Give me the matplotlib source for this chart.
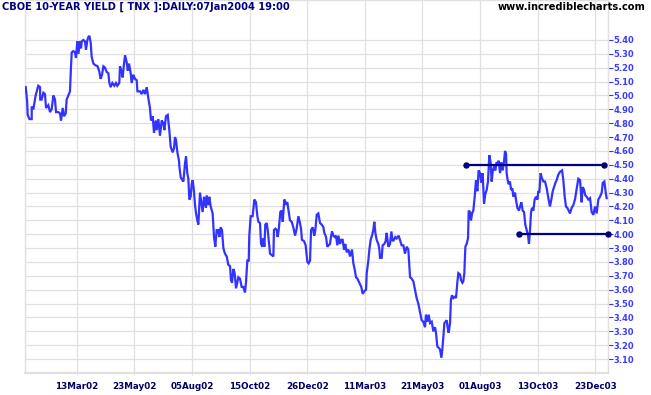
import matplotlib
matplotlib.use("Agg")
import matplotlib.pyplot as plt

# ---- data (trading-day index from 07Jan2002, yield %) ----
days = [0.8, 2, 2.5, 4, 6, 6, 7.4, 9.4, 11.7, 13.2, 13.4, 14.6, 16.1, 17.5, 18.4, 20.4,
        21.9, 23.3, 24.8, 26.2, 27.1, 29.1, 30.6, 31.4, 32.9, 34.0, 35.5, 36.3, 37.8, 39.2,
        40.1, 40.7, 42.1, 43.6, 44.4, 45.6, 46.5, 47.9, 48.8, 49.4, 50.8, 52.2, 53.1, 54.3,
        55.1, 56.0, 57.2, 58.0, 59.5, 60.9, 63.2, 64.7, 65.8, 67.0, 68.2, 69.6, 71.0, 72.5,
        73.4, 74.5, 76.0, 77.7, 79.1, 80.3, 82.0, 82.6, 84.1, 84.9, 86.1, 87.0, 88.4, 89.3,
        90.4, 91.9, 92.7, 94.2, 95.6, 97.1, 97.7, 100.0, 101.4, 102.9, 104.3, 105.8, 107.2,
        108.6, 109.5, 111.0, 112.1, 113.6, 114.4, 115.9, 117.3, 118.8, 120.2, 121.1, 122.5,
        124.0, 125.4, 126.6, 128.3, 129.5, 130.3, 131.2, 132.4, 133.8,
        134.1, 135.3, 136.7, 137.6, 139.0, 139.9, 141.0, 141.9, 142.8, 143.9, 144.8, 145.7,
        146.8, 147.7, 148.6, 149.7, 150.6, 152.0,
        154.3, 155.5, 157.2, 157.8, 159.3, 160.1, 161.3, 163.0, 164.2, 165.3, 166.5, 167.9,
        168.8, 170.0, 171.1, 172.3, 173.7, 175.2, 176.6, 178.1, 178.9, 179.8, 181.0, 182.1,
        183.3, 185.3, 186.7, 188.2, 189.6, 191.1, 192.0, 193.1, 194.3, 194.8, 196.0, 197.7,
        199.2, 200.6, 201.8, 202.7, 204.1, 205.0, 206.1, 207.0, 207.9, 208.7, 209.9, 210.8,
        211.6, 212.8, 214.2, 215.7, 216.2, 217.4, 218.6, 219.4, 220.3, 220.9, 221.7, 222.9,
        223.8, 225.2, 226.7, 227.8, 229.0, 230.1, 231.6, 233.0, 234.5, 235.9, 237.4, 238.8,
        239.7, 240.5, 242.3, 243.7, 245.2, 246.3, 247.5, 248.4, 249.8, 251.2, 252.1, 253.3,
        254.7, 256.2, 257.6, 259.1, 259.9, 261.4, 262.5, 263.7, 264.8, 265.7, 266.6, 267.7,
        268.9, 270.0, 271.2, 272.1, 273.5, 274.7, 275.8, 277.0, 278.1, 279.3, 280.8, 282.2,
        283.9, 285.1, 286.2, 287.4, 288.6, 290.3, 292.0, 293.2, 294.6, 296.1, 296.7, 298.1,
        299.0, 300.1, 301.3, 302.4, 303.3, 304.2, 305.3, 306.8, 307.7, 308.2, 309.7, 310.5,
        312.0, 313.1, 314.0, 315.5, 316.9, 318.1, 319.2, 320.4, 321.5, 322.7, 324.4,
        327.0, 328.5, 329.9, 331.4, 332.8, 334.3, 335.7, 337.2, 338.6, 340.0, 341.5, 342.9,
        344.4, 345.8, 347.3, 348.1, 349.3, 350.5, 351.6, 353.1, 354.5, 356.0, 356.8, 358.0,
        359.4, 360.3, 361.5, 362.3, 363.2, 364.1, 365.2, 366.1, 366.9, 367.8, 369.0, 369.8,
        370.7, 371.9, 373.3, 374.2, 375.3, 376.2, 377.7, 378.5, 379.7, 380.5, 381.4, 382.3,
        383.4, 384.6, 385.2, 386.3, 387.2, 388.1, 389.2, 390.4, 391.5, 392.7, 393.8, 395.0,
        396.2, 397.3, 398.5, 399.6, 400.8, 401.9, 403.1, 404.3, 405.1, 406.0, 407.2, 408.3,
        409.5, 410.3, 411.2, 412.4, 413.5, 414.7, 415.8, 416.7, 417.6, 418.1, 419.0, 419.9,
        421.0, 421.9, 423.1, 423.9, 425.4, 426.2, 427.4, 428.8, 429.7, 430.9, 432.0, 433.2,
        434.3, 435.5, 436.7, 437.5, 438.4, 439.3, 440.1, 441.3, 442.4, 443.6, 444.8, 445.6,
        446.5, 447.6, 448.5, 450.0, 451.4, 452.9, 454.3, 455.7, 456.9, 458.1, 459.2, 460.4,
        461.5, 463.0, 464.4, 466.2, 467.3, 468.5, 469.6, 470.8, 471.9, 473.1, 474.5, 476.0,
        477.4, 478.9, 480.3, 481.8, 483.2, 484.1, 485.3, 486.4, 487.6, 489.0, 490.5, 491.9,
        493.4, 494.8, 496.2, 497.7, 499.1, 500.6, 501.5, 502.9, 504.1, 504.9]

yields = [5.06, 4.96, 4.86, 4.83, 4.83, 4.92, 4.90, 5.00, 5.07, 5.06, 4.97, 4.97, 5.02, 5.01, 4.91, 4.93,
          4.88, 4.90, 5.00, 4.97, 4.88, 4.88, 4.87, 4.82, 4.91, 4.85, 4.87, 4.97, 5.00, 5.03,
          5.21, 5.31, 5.32, 5.31, 5.27, 5.39, 5.30, 5.39, 5.34, 5.39, 5.40, 5.39, 5.33, 5.40,
          5.42, 5.43, 5.38, 5.28, 5.23, 5.22, 5.21, 5.17, 5.12, 5.15, 5.21, 5.20, 5.17, 5.16,
          5.09, 5.06, 5.09, 5.07, 5.09, 5.07, 5.09, 5.21, 5.17, 5.13, 5.23, 5.29, 5.24, 5.18,
          5.23, 5.16, 5.09, 5.15, 5.12, 5.11, 5.03, 5.03, 5.01, 5.04, 5.01, 5.06, 4.98,
          4.91, 4.82, 4.85, 4.73, 4.82, 4.75, 4.83, 4.71, 4.82, 4.80, 4.75, 4.85,
          4.86, 4.75, 4.63, 4.59, 4.62, 4.70, 4.68, 4.59, 4.53,
          4.49, 4.41, 4.39, 4.38, 4.51, 4.56, 4.44, 4.40, 4.25, 4.27, 4.36, 4.39,
          4.31, 4.21, 4.15, 4.10, 4.07, 4.30,
          4.16, 4.27, 4.19, 4.28, 4.21, 4.27, 4.20, 4.15, 3.98, 3.91, 4.03, 4.03,
          3.98, 4.05, 4.03, 3.90, 3.86, 3.84, 3.78, 3.77, 3.67, 3.65, 3.75, 3.72,
          3.61, 3.69, 3.68, 3.62, 3.62, 3.58, 3.66, 3.81, 3.81, 3.99, 4.13, 4.13,
          4.25, 4.23, 4.13, 4.09, 4.08, 3.93, 3.91, 3.97, 3.91, 4.07, 4.08, 4.03,
          3.96, 3.86, 3.85, 3.84, 4.03, 4.04, 4.03, 3.98, 4.03, 4.08, 4.16, 4.17,
          4.09, 4.25, 4.22, 4.23, 4.16, 4.10, 4.09, 4.05, 3.99, 4.04, 4.13, 4.08,
          4.04, 3.96, 3.95, 3.92, 3.80, 3.79, 3.81, 4.03, 4.05, 3.99, 4.03, 4.14,
          4.15, 4.08, 4.07, 4.05, 4.01, 3.98, 3.91, 3.92, 3.93, 3.98, 4.02, 3.99,
          3.98, 3.99, 3.92, 3.99, 3.93, 3.96, 3.96, 3.89, 3.93, 3.87, 3.89, 3.84,
          3.89, 3.79, 3.75, 3.69, 3.68, 3.65, 3.62, 3.57, 3.59, 3.60, 3.72, 3.81,
          3.89, 3.96, 3.99, 4.03, 4.09, 4.01, 3.96, 3.93, 3.89, 3.83, 3.83, 3.92,
          3.93, 3.95, 4.01, 3.91, 3.93, 4.02, 3.95, 3.96, 3.98, 3.97, 3.99,
          3.92, 3.92, 3.86, 3.91, 3.89, 3.69, 3.68, 3.66, 3.60, 3.54, 3.50, 3.44,
          3.38, 3.37, 3.33, 3.42, 3.37, 3.42, 3.36, 3.37, 3.30, 3.33, 3.29, 3.19,
          3.18, 3.17, 3.11, 3.17, 3.26, 3.36, 3.37, 3.38, 3.33, 3.29, 3.36, 3.53,
          3.56, 3.54, 3.55, 3.54, 3.65, 3.72, 3.71, 3.67, 3.65, 3.66, 3.72, 3.91,
          3.93, 3.97, 4.17, 4.16, 4.10, 4.15, 4.17, 4.27, 4.39, 4.31, 4.46, 4.44,
          4.37, 4.44, 4.22, 4.29, 4.32, 4.38, 4.57, 4.51, 4.38, 4.45, 4.49, 4.46,
          4.52, 4.50, 4.53, 4.44, 4.52, 4.46, 4.52, 4.60, 4.58, 4.44, 4.39, 4.36,
          4.38, 4.32, 4.33, 4.27, 4.30, 4.25, 4.19, 4.17, 4.20, 4.23, 4.17, 4.16,
          4.07, 4.03, 3.99, 3.93, 4.03, 4.16, 4.19, 4.17, 4.25, 4.27, 4.25, 4.31,
          4.30, 4.44, 4.41, 4.38, 4.38, 4.33, 4.26, 4.20, 4.25, 4.31, 4.34, 4.37,
          4.39, 4.43, 4.45, 4.46, 4.39, 4.27, 4.20, 4.19, 4.17, 4.15, 4.19, 4.21,
          4.25, 4.33, 4.40, 4.39, 4.23, 4.34, 4.32, 4.28, 4.27, 4.25, 4.26, 4.16,
          4.14, 4.20, 4.15, 4.25, 4.27, 4.30, 4.37, 4.38, 4.30, 4.26]

# horizontal trend lines: (start day, end day, level)
resistance = (382.9, 502.6, 4.50)
support = (429.1, 506.3, 4.00)

tick_days = [45, 95, 145, 195, 245, 295, 345, 395, 445, 495]
tick_labels = ["13Mar02", "23May02", "05Aug02", "15Oct02", "26Dec02",
               "11Mar03", "21May03", "01Aug03", "13Oct03", "23Dec03"]
y_ticks = [3.1 + 0.1 * i for i in range(24)]

title = "CBOE 10-YEAR YIELD [ TNX ]:DAILY:07Jan2004 19:00"
site = "www.incrediblecharts.com"

# ---- figure ----
W, H = 651, 395
fig = plt.figure(figsize=(W / 100, H / 100), dpi=100)
fig.patch.set_facecolor("white")
ax = fig.add_axes([25 / W, 22 / H, 583 / W, 373 / H])

grid_c = "#e0e0e0"
line_c = "#3333ff"
navy = "#000080"

ax.set_xlim(0.17, 506.07)
ax.set_ylim(3.0, 5.688)

ax.plot(days, yields, color=line_c, lw=1.6, zorder=3, solid_joinstyle="miter")

for (d0, d1, lvl) in (resistance, support):
    ax.plot([d0, d1], [lvl, lvl], color=navy, lw=1.6, marker="o", ms=3.6,
            zorder=4, clip_on=False)

ax.set_xticks(tick_days)
ax.set_xticklabels(tick_labels, fontsize=6.3, fontweight="bold", color="#000066")
ax.set_yticks(y_ticks)
ax.set_yticklabels([f"{v:.2f}" for v in y_ticks], fontsize=6.0, fontweight="bold",
                   color="#3b3bff")
ax.yaxis.tick_right()
ax.tick_params(axis="y", direction="out", length=3.3, width=0.8, colors=line_c,
               pad=0.8, labelcolor="#3b3bff")
ax.tick_params(axis="x", direction="out", length=1.5, width=0.8, colors=grid_c,
               pad=5.0, labelcolor="#000066")

ax.grid(True, color=grid_c, lw=0.9, zorder=0)
ax.set_axisbelow(True)
for s in ("left", "right", "top"):
    ax.spines[s].set_color(grid_c)
    ax.spines[s].set_linewidth(1.0)
ax.spines["bottom"].set_color(grid_c)
ax.spines["bottom"].set_linewidth(1.6)

fig.text(2.5 / W, 1 - 7 / H, title, ha="left", va="center", fontsize=7.1,
         fontweight="bold", color=navy)
fig.text(646 / W, 1 - 7 / H, site, ha="right", va="center", fontsize=7.1,
         fontweight="bold", color="black")

fig.savefig("out.png", dpi=100, facecolor="white")
